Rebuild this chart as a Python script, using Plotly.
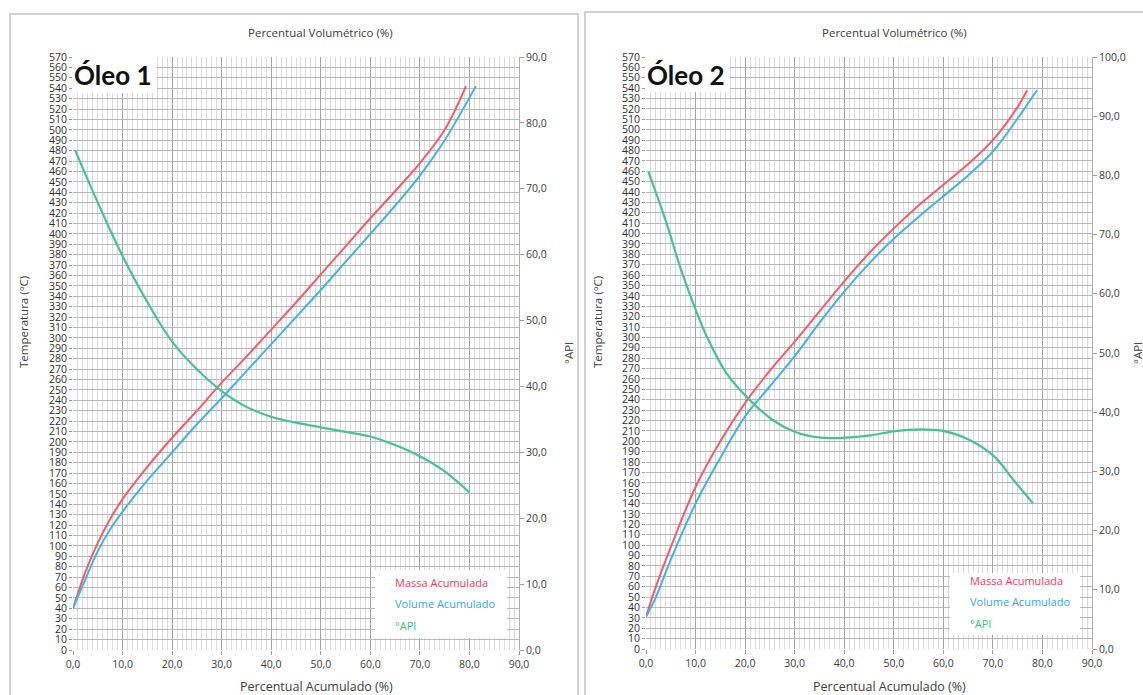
import plotly.graph_objects as go

# ---------------- data: Óleo 1 ----------------
x1_massa = [0, 2.5, 5, 7.5, 10, 15, 20, 25, 30, 35, 40, 45, 50, 55, 60, 65, 70, 75, 79.3]
t1_massa = [40, 75, 103, 126, 145, 176, 204, 230, 257, 282, 308, 334, 361, 388, 415, 441, 468, 500, 542]
x1_vol = [0, 2.5, 5, 7.5, 10, 15, 20, 25, 30, 35, 40, 45, 50, 55, 60, 65, 70, 75, 81.3]
t1_vol = [40, 68, 95, 116, 133, 163, 190, 217, 242, 268, 294, 320, 346, 373, 400, 427, 456, 490, 542]
x1_api = [0.4, 5, 10, 15, 20, 25, 30, 35, 40, 45, 50, 55, 60, 65, 70, 75, 80]
api1 = [75.9, 67.9, 59.8, 52.8, 46.8, 42.6, 39.3, 36.9, 35.4, 34.5, 33.8, 33.1, 32.4, 31.1, 29.4, 27.1, 23.9]

# ---------------- data: Óleo 2 ----------------
x2_massa = [0, 2, 5, 10, 15, 20, 25, 30, 35, 40, 45, 50, 55, 60, 65, 70, 75, 76.9]
t2_massa = [31, 60, 98, 156, 200, 237, 268, 296, 325, 354, 381, 405, 427, 447, 467, 490, 522, 538]
x2_vol = [0, 2, 5, 10, 15, 20, 25, 30, 35, 40, 45, 50, 55, 60, 65, 70, 75, 78.9]
t2_vol = [31, 50, 86, 140, 184, 224, 253, 282, 314, 344, 371, 395, 416, 436, 456, 479, 511, 538]
x2_api = [0.5, 4.2, 6.9, 10.3, 12.6, 16.3, 21, 25.7, 30, 35.2, 40.2, 45.3, 50.3, 55.4, 60.2, 65.3, 70.3, 74.2, 78.1]
api2 = [80.6, 71.8, 64.5, 56.7, 52.2, 46.5, 42.0, 38.6, 36.7, 35.7, 35.7, 36.1, 36.8, 37.1, 36.8, 35.3, 32.5, 28.5, 24.6]

panel_titles = ["Óleo 1", "Óleo 2"]
legend_labels = ["Massa Acumulada", "Volume Acumulado", "°API"]
top_title = "Percentual Volumétrico (%)"
bottom_title = "Percentual Acumulado (%)"
left_title = "Temperatura (°C)"
right_title = "°API"
api_ranges = [90, 100]

W, H = 1143, 695
RED, BLUE, GREEN = "#ee5f6c", "#47b1e3", "#48c295"
RED_T, BLUE_T, GREEN_T = "#ff3b5c", "#35a9e0", "#3cc08a"
TXT = "#404040"
FONT = "Open Sans"
TICKFONT = "Liberation Sans Narrow, Open Sans"


def px(x):
    return x / W


def py(y):
    return 1 - y / H


fig = go.Figure()

panels = [
    dict(x=(x1_massa, t1_massa, x1_vol, t1_vol, x1_api, api1), xa="x", ya="y", ya2="y2"),
    dict(x=(x2_massa, t2_massa, x2_vol, t2_vol, x2_api, api2), xa="x2", ya="y3", ya2="y4"),
]
for p in panels:
    xm, tm, xv, tv, xa_, ap = p["x"]
    fig.add_trace(go.Scatter(x=xm, y=tm, mode="lines", line=dict(color=RED, width=2, shape="spline", smoothing=1),
                             xaxis=p["xa"], yaxis=p["ya"], name=legend_labels[0], showlegend=False))
    fig.add_trace(go.Scatter(x=xv, y=tv, mode="lines", line=dict(color=BLUE, width=2, shape="spline", smoothing=1),
                             xaxis=p["xa"], yaxis=p["ya"], name=legend_labels[1], showlegend=False))
    fig.add_trace(go.Scatter(x=xa_, y=ap, mode="lines", line=dict(color=GREEN, width=2.2, shape="spline", smoothing=1),
                             xaxis=p["xa"], yaxis=p["ya2"], name=legend_labels[2], showlegend=False))

# geometry (pixels)
geo = [
    dict(xl=73, xr=519, yb=650, yt=57, frame=(10, 14, 578), oleo=(73, 157, 93),
         leg=(375, 507, 570, 638, 393, [582, 603.5, 625]), ttl=320, btl=316, ltl=23, rtl=568),
    dict(xl=646, xr=1092, yb=649, yt=57, frame=(585, 12, 1160), oleo=(646, 730, 92),
         leg=(950, 1080, 573, 635, 968, [580, 601.5, 623]), ttl=894, btl=889, ltl=597, rtl=1137),
]

axis_common_x = dict(range=[0, 90], dtick=10, tick0=0, tickformat=".1f", showgrid=True,
                     gridcolor="#a3a3a3", gridwidth=1, zeroline=False, ticks="outside", ticklen=4,
                     tickcolor="#9a9a9a", tickfont=dict(family=FONT, size=10.5, color=TXT),
                     minor=dict(dtick=1, showgrid=True, gridcolor="#dadada", gridwidth=1),
                     showline=False, fixedrange=True, automargin=False)
axis_common_y = dict(range=[0, 570], dtick=10, tick0=0, tickformat="d", showgrid=True,
                     gridcolor="#b8b8b8", gridwidth=1, zeroline=False, ticks="outside", ticklen=3,
                     tickcolor="#9a9a9a", tickfont=dict(family=TICKFONT, size=10.5, color="#303030"),
                     showline=False, fixedrange=True, automargin=False)


def right_axis(rng, overlay, anchor):
    return dict(range=[0, rng], dtick=10, tick0=0, tickformat=".1f", showgrid=False, zeroline=False,
                overlaying=overlay, side="right", anchor=anchor, ticks="outside", ticklen=4,
                tickcolor="#9a9a9a", tickfont=dict(family=FONT, size=10.5, color=TXT),
                showline=True, linecolor="#b0b0b0", fixedrange=True, automargin=False)


g1, g2 = geo
fig.update_layout(
    xaxis=dict(domain=[px(g1["xl"]), px(g1["xr"])], anchor="y", **axis_common_x),
    yaxis=dict(domain=[py(g1["yb"]), py(g1["yt"])], anchor="x", **axis_common_y),
    yaxis2=right_axis(api_ranges[0], "y", "x"),
    xaxis2=dict(domain=[px(g2["xl"]), px(g2["xr"])], anchor="y3", **axis_common_x),
    yaxis3=dict(domain=[py(g2["yb"]), py(g2["yt"])], anchor="x2", **axis_common_y),
    yaxis4=right_axis(api_ranges[1], "y3", "x2"),
)

shapes = []
annotations = []
for i, g in enumerate(geo):
    fx0, fy0, fx1 = g["frame"]
    shapes.append(dict(type="rect", xref="paper", yref="paper", x0=px(fx0), x1=px(fx1),
                       y0=py(720), y1=py(fy0), line=dict(color="#d2d2d2", width=2),
                       fillcolor="rgba(0,0,0,0)", layer="below"))
    ox0, ox1, oy1 = g["oleo"]
    shapes.append(dict(type="rect", xref="paper", yref="paper", x0=px(ox0 - 1), x1=px(ox1),
                       y0=py(oy1), y1=py(g["yt"] - 2), line=dict(width=0), fillcolor="white",
                       layer="above"))
    annotations.append(dict(text="<b>%s</b>" % panel_titles[i], xref="paper", yref="paper",
                            x=px(ox0 - 1), y=py(75), xanchor="left", yanchor="middle",
                            showarrow=False, font=dict(family="Lato", size=26, color="#111111")))
    lx0, lx1, ly0, ly1, tx, rows = g["leg"]
    shapes.append(dict(type="rect", xref="paper", yref="paper", x0=px(lx0), x1=px(lx1),
                       y0=py(ly1), y1=py(ly0), line=dict(width=0), fillcolor="white", layer="above"))
    for lab, col, yy in zip(legend_labels, [RED_T, BLUE_T, GREEN_T], rows):
        annotations.append(dict(text=lab, xref="paper", yref="paper", x=px(tx), y=py(yy),
                                xanchor="left", yanchor="middle", showarrow=False,
                                font=dict(family=FONT, size=11, color=col)))
    annotations.append(dict(text=top_title, xref="paper", yref="paper", x=px(g["ttl"]), y=py(33),
                            xanchor="center", yanchor="middle", showarrow=False,
                            font=dict(family=FONT, size=11.5, color=TXT)))
    annotations.append(dict(text=bottom_title, xref="paper", yref="paper", x=px(g["btl"]), y=py(686),
                            xanchor="center", yanchor="middle", showarrow=False,
                            font=dict(family=FONT, size=12.5, color=TXT)))
    annotations.append(dict(text=left_title, xref="paper", yref="paper", x=px(g["ltl"]), y=py(322),
                            xanchor="center", yanchor="middle", showarrow=False, textangle=-90,
                            font=dict(family=FONT, size=11.5, color=TXT)))
    annotations.append(dict(text=right_title, xref="paper", yref="paper", x=px(g["rtl"]), y=py(353),
                            xanchor="center", yanchor="middle", showarrow=False, textangle=-90,
                            font=dict(family=FONT, size=11.5, color=TXT)))

fig.update_layout(
    width=W, height=H, margin=dict(l=0, r=0, t=0, b=0, pad=0, autoexpand=False),
    paper_bgcolor="white", plot_bgcolor="white", separators=",.",
    shapes=shapes, annotations=annotations, showlegend=False,
)

fig.write_html("out.html", config={"displayModeBar": False, "staticPlot": True},
               post_script="document.body.style.margin='0px';document.body.style.overflow='hidden';")
